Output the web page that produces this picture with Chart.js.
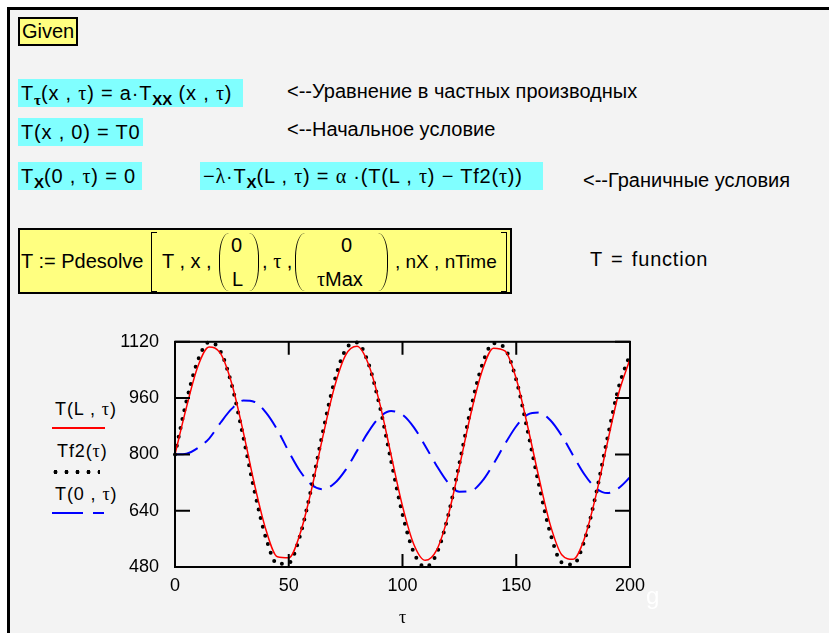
<!DOCTYPE html>
<html>
<head>
<meta charset="utf-8">
<script src="https://cdn.jsdelivr.net/npm/chart.js@4.4.0/dist/chart.umd.min.js"></script>
<style>
body { margin:0; background:#fff; width:829px; height:633px; overflow:hidden; }
#sheet { position:absolute; left:7px; top:7px; width:822px; height:626px; background:#f3f3f3;
	border-left:3px solid #000; border-top:3px solid #000; box-sizing:border-box; }
.t { position:absolute; font-family:'Liberation Sans', Arial, sans-serif; font-size:20px; color:#000; white-space:nowrap; }
.m { letter-spacing:0.8px; }
.g { font-family:'Liberation Serif', 'Times New Roman', serif; }
.box { position:absolute; box-sizing:border-box; font-family:'Liberation Sans', Arial, sans-serif; font-size:20px; white-space:nowrap; }
.cyan { background:#80ffff; padding:0 3px; line-height:28px; height:28px; }
.yel { background:#ffff80; border:2px solid #000; }
sub { font-size:15px; vertical-align:-5px; line-height:0; font-weight:bold; letter-spacing:0; }
.brk { position:absolute; width:6px; top:2px; height:60px; border:1.5px solid #000; box-sizing:border-box; }
.bl { border-right:none; }
.br { border-left:none; }
.par { position:absolute; width:10px; top:3px; height:58px; box-sizing:border-box; }
.pl { border-left:1.5px solid #000; border-radius:12px 0 0 12px / 29px 0 0 29px; }
.pr { border-right:1.5px solid #000; border-radius:0 12px 12px 0 / 0 29px 29px 0; }
#chart { position:absolute; left:100px; top:315px; }
.leg { position:absolute; font-family:'Liberation Sans', Arial, sans-serif; font-size:18px; letter-spacing:0.9px; }
</style>
</head>
<body>
<div id="sheet"></div>

<div class="box yel" style="left:18px;top:17px;width:60px;height:29px;line-height:25px;padding-left:2px;">Given</div>

<div class="box cyan m" style="left:18px;top:79px;width:225px;">T<sub class="g">τ</sub>(x , <span class="g">τ</span>) = a·T<sub>XX</sub> (x , <span class="g">τ</span>)</div>
<div class="t" style="left:287px;top:80px;">&lt;--Уравнение в частных производных</div>

<div class="box cyan m" style="left:18px;top:118px;width:125px;">T(x , 0) = T0</div>
<div class="t" style="left:287px;top:118px;">&lt;--Начальное условие</div>

<div class="box cyan m" style="left:18px;top:162px;width:124px;">T<sub>X</sub>(0 , <span class="g">τ</span>) = 0</div>
<div class="box cyan m" style="left:200px;top:162px;width:343px;">−<span class="g">λ</span>·T<sub>X</sub>(L , <span class="g">τ</span>) = <span class="g">α</span> ·(T(L , <span class="g">τ</span>) − Tf2(<span class="g">τ</span>))</div>
<div class="t" style="left:583px;top:169px;">&lt;--Граничные условия</div>

<div class="box yel" style="left:18px;top:228px;width:494px;height:66px;">
	<span class="t" style="left:1px;top:20px;">T := Pdesolve</span>
	<span class="brk bl" style="left:131px;"></span>
	<span class="t" style="left:142px;top:20px;">T , x ,</span>
	<span class="par pl" style="left:199px;"></span>
	<span class="t" style="left:211px;top:4px;">0</span>
	<span class="t" style="left:212px;top:38px;">L</span>
	<span class="par pr" style="left:229px;"></span>
	<span class="t" style="left:242px;top:20px;">, <span class="g">τ</span> ,</span>
	<span class="par pl" style="left:275px;"></span>
	<span class="t" style="left:321px;top:4px;">0</span>
	<span class="t" style="left:297px;top:38px;"><span class="g">τ</span>Max</span>
	<span class="par pr" style="left:358px;"></span>
	<span class="t" style="left:375px;top:21px;font-size:19px;">, nX , nTime</span>
	<span class="brk br" style="left:481px;"></span>
</div>
<div class="t m" style="left:590px;top:248px;word-spacing:2px;">T = function</div>

<div id="legend"></div>
<canvas id="chart" width="560" height="318"></canvas>
<div class="t" style="left:646px;top:582px;color:#fff;font-size:24px;">g</div>

<script>
// time axis and the three traces
var tau = [0, 5, 10, 15, 20, 25, 30, 35, 40, 45, 50, 55, 60, 65, 70, 75, 80, 85, 90, 95, 100,
	105, 110, 115, 120, 125, 130, 135, 140, 145, 150, 155, 160, 165, 170, 175, 180, 185, 190, 195, 200];
var TL = [800, 933, 1049, 1105, 1087, 1000, 864, 713, 585, 509, 506, 575, 700, 851, 989, 1082, 1107, 1057, 945, 798, 653,
	544, 499, 528, 624, 765, 914, 1037, 1102, 1094, 1015, 880, 733, 599, 515, 502, 562, 682, 831, 973, 1071];
var Tf2 = [800, 950, 1066, 1119, 1093, 996, 850, 694, 562, 489, 491, 570, 706, 864, 1006, 1098, 1118, 1059, 937, 781, 630,
	521, 480, 518, 624, 774, 929, 1054, 1116, 1101, 1012, 867, 713, 575, 493, 487, 556, 686, 844, 990, 1084];
var T0 = [800, 802, 818, 845, 890, 930, 953, 949, 919, 870, 808, 752, 714, 701, 717, 756, 810, 864, 906, 923, 913,
	877, 824, 768, 720, 694, 696, 724, 773, 829, 880, 913, 919, 897, 853, 797, 743, 704, 690, 704, 735];
var labels = ['T(L , τ)', 'Tf2(τ)', 'T(0 , τ)'];
var xTicks = [0, 50, 100, 150, 200];
var yTicks = [480, 640, 800, 960, 1120];

function pts(v) { return tau.map(function(t, i) { return {x: t, y: v[i]}; }); }

// legend, Mathcad style: name above the line sample
var leg = document.getElementById('legend');
leg.innerHTML =
	'<div class="leg" style="left:55px;top:399px;">' + labels[0] + '</div>' +
	'<div style="position:absolute;left:52px;top:427px;width:53px;height:2px;background:#f00;"></div>' +
	'<div class="leg" style="left:57px;top:441px;">' + labels[1] + '</div>' +
	'<div style="position:absolute;left:50px;top:470px;width:50px;height:4px;background:radial-gradient(circle, #000 1.8px, transparent 2.2px) 0 0/11px 4px repeat-x;"></div>' +
	'<div class="leg" style="left:55px;top:484px;">' + labels[2] + '</div>' +
	'<div style="position:absolute;left:52px;top:512px;width:31px;height:2px;background:#00f;"></div>' +
	'<div style="position:absolute;left:93px;top:512px;width:11px;height:2px;background:#00f;"></div>';
leg.querySelectorAll('.leg').forEach(function(e) { e.innerHTML = e.innerHTML.replace(/τ/g, '<span class="g">τ</span>'); });

// box round the plot with inward tick marks on all four sides
var frame = {
	id: 'frame',
	afterDraw: function(c) {
		var ctx = c.ctx, a = c.chartArea, x = c.scales.x, y = c.scales.y;
		ctx.save();
		ctx.strokeStyle = '#000';
		ctx.lineWidth = 2;
		ctx.strokeRect(a.left, a.top, a.right - a.left, a.bottom - a.top);
		ctx.beginPath();
		xTicks.forEach(function(v) {
			var p = x.getPixelForValue(v);
			ctx.moveTo(p, a.bottom); ctx.lineTo(p, a.bottom - 13);
			ctx.moveTo(p, a.top); ctx.lineTo(p, a.top + 13);
		});
		yTicks.forEach(function(v) {
			var p = y.getPixelForValue(v);
			ctx.moveTo(a.left, p); ctx.lineTo(a.left + 15, p);
			ctx.moveTo(a.right, p); ctx.lineTo(a.right - 15, p);
		});
		ctx.stroke();
		ctx.restore();
	}
};

var font = {family: 'Liberation Sans, Arial, sans-serif', size: 18};
var chart = new Chart(document.getElementById('chart'), {
	type: 'line',
	data: {
		datasets: [{
			label: labels[0], data: pts(TL),
			borderColor: '#ff0000', borderWidth: 1.5, pointRadius: 0, cubicInterpolationMode: 'monotone'
		}, {
			label: labels[1], data: pts(Tf2),
			borderColor: '#000000', borderWidth: 4, borderDash: [0, 9], borderCapStyle: 'round',
			pointRadius: 0, cubicInterpolationMode: 'monotone', clip: 4
		}, {
			label: labels[2], data: pts(T0),
			borderColor: '#0000ff', borderWidth: 2, borderDash: [24, 9, 14, 9],
			pointRadius: 0, cubicInterpolationMode: 'monotone'
		}]
	},
	options: {
		responsive: false,
		animation: false,
		layout: {padding: {top: 10, right: 30, left: 0, bottom: 0}},
		plugins: {legend: {display: false}, tooltip: {enabled: false}},
		scales: {
			x: {
				type: 'linear', min: 0, max: 200,
				afterBuildTicks: function(s) { s.ticks = xTicks.map(function(v) { return {value: v}; }); },
				ticks: {color: '#000', font: font, padding: 8, maxRotation: 0, callback: function(v) { return String(v); }},
				grid: {display: false, drawTicks: false},
				border: {display: false},
				title: {display: true, text: 'τ', color: '#000', font: {family: 'Liberation Serif, serif', size: 18}, padding: {top: 4, bottom: 4}},
				afterFit: function(s) { s.height = 66; }
			},
			y: {
				min: 480, max: 1120,
				afterBuildTicks: function(s) { s.ticks = yTicks.map(function(v) { return {value: v}; }); },
				ticks: {color: '#000', font: font, padding: 16, callback: function(v) { return String(v); }},
				grid: {display: false, drawTicks: false},
				border: {display: false},
				afterFit: function(s) { s.width = 75; }
			}
		}
	},
	plugins: [frame]
});
</script>
</body>
</html>
